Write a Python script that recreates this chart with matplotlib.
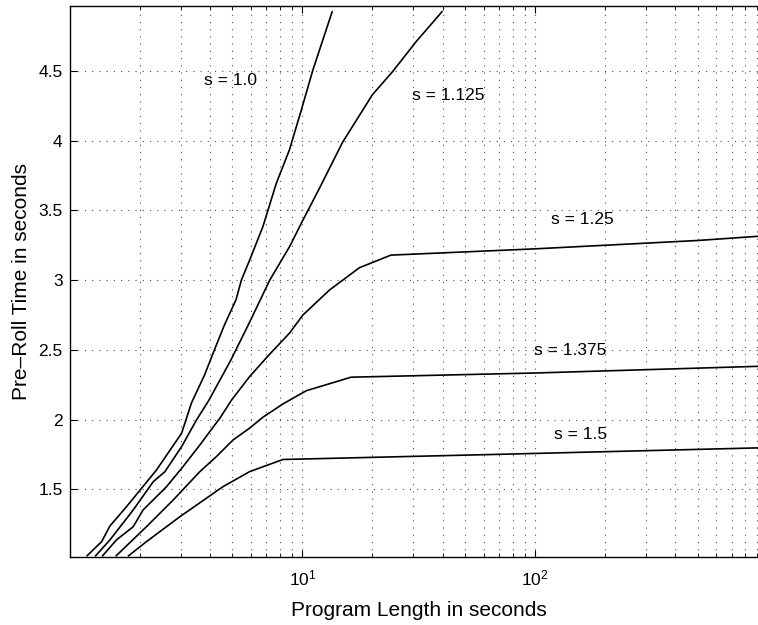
import matplotlib
matplotlib.use("Agg")
import matplotlib.pyplot as plt
from matplotlib.ticker import LogLocator, NullFormatter, FixedLocator

plt.rcParams['font.family'] = ['Liberation Sans', 'DejaVu Sans']
plt.rcParams['mathtext.fontset'] = 'custom'
plt.rcParams['mathtext.rm'] = 'Liberation Sans'
plt.rcParams['mathtext.it'] = 'Liberation Sans'

# s = 1.0
x_s100 = [1.19, 1.374, 1.491, 1.758, 2.364, 3.03, 3.34, 3.80, 4.19, 4.63, 5.19, 5.47,
          5.94, 6.77, 7.73, 8.8, 9.9, 11.1, 13.43]
y_s100 = [1.025, 1.126, 1.238, 1.377, 1.64, 1.903, 2.12, 2.32, 2.50, 2.68, 2.86, 3.0,
          3.145, 3.384, 3.695, 3.934, 4.22, 4.507, 4.925]
# s = 1.125
x_s1125 = [1.295, 1.491, 1.877, 2.29, 2.57, 3.03, 3.51, 3.97, 4.94, 5.94, 7.24, 8.81,
           10.05, 11.85, 14.9, 20.0, 24.4, 30.8, 39.8]
y_s1125 = [1.025, 1.138, 1.353, 1.556, 1.628, 1.807, 1.998, 2.14, 2.43, 2.70, 3.0, 3.24,
           3.43, 3.66, 3.99, 4.33, 4.495, 4.71, 4.925]
# s = 1.25
x_s125 = [1.388, 1.59, 1.877, 2.07, 2.61, 3.07, 3.63, 4.0, 4.42, 4.96, 5.94, 7.24, 8.8,
          10.05, 13.08, 17.6, 24.0, 100, 500, 1000]
y_s125 = [1.025, 1.138, 1.233, 1.353, 1.52, 1.663, 1.819, 1.914, 2.01, 2.14, 2.31, 2.47,
          2.62, 2.75, 2.93, 3.09, 3.18, 3.225, 3.285, 3.32]
# s = 1.375
x_s1375 = [1.587, 2.14, 2.79, 3.63, 4.27, 5.04, 5.94, 6.77, 8.25, 10.4, 16.2, 100, 1000]
y_s1375 = [1.025, 1.233, 1.425, 1.628, 1.735, 1.855, 1.94, 2.018, 2.113, 2.208, 2.305,
           2.335, 2.385]
# s = 1.5
x_s150 = [1.794, 2.14, 2.98, 4.56, 5.94, 8.25, 70, 1000]
y_s150 = [1.025, 1.126, 1.305, 1.52, 1.628, 1.715, 1.752, 1.80]

labels = ["s = 1.0", "s = 1.125", "s = 1.25", "s = 1.375", "s = 1.5"]
label_x = [3.77, 29.5, 116.6, 98.9, 120.5]
label_y = [4.435, 4.323, 3.437, 2.495, 1.891]

y_ticks = [1.5, 2, 2.5, 3, 3.5, 4, 4.5]
y_tick_labels = ["1.5", "2", "2.5", "3", "3.5", "4", "4.5"]

fig = plt.figure(figsize=(7.58, 6.25), dpi=100)
ax = fig.add_axes([69.5 / 758, (625 - 557) / 625, (768 - 69.5) / 758, (557 - 5.7) / 625])

for xs, ys in [(x_s100, y_s100), (x_s1125, y_s1125), (x_s125, y_s125),
               (x_s1375, y_s1375), (x_s150, y_s150)]:
    ax.plot(xs, ys, color='black', linewidth=1.2)

for t, lx, ly in zip(labels, label_x, label_y):
    ax.text(lx, ly, t, fontsize=12.5, ha='left', va='center')

ax.set_xscale('log')
ax.set_xlim(1, 1000)
ax.set_ylim(1.016, 4.968)
ax.xaxis.set_major_locator(FixedLocator([10, 100]))
ax.xaxis.set_minor_locator(LogLocator(base=10, subs=range(2, 10), numticks=20))
ax.xaxis.set_minor_formatter(NullFormatter())
ax.set_yticks(y_ticks)
ax.set_yticklabels(y_tick_labels)

ax.grid(True, which='major', axis='both', linestyle=(0, (1, 5.5)), color='0.3', linewidth=0.8)
ax.grid(True, which='minor', axis='x', linestyle=(0, (1, 5.5)), color='0.3', linewidth=0.8)

ax.tick_params(which='both', direction='in', top=True, right=True, labelsize=12.5)
ax.tick_params(which='major', length=5, width=0.8, pad=8)
ax.tick_params(which='minor', length=3, width=0.6)
ax.tick_params(axis='y', pad=5)

for sp in ax.spines.values():
    sp.set_linewidth(1.0)

ax.set_xlabel("Program Length in seconds", fontsize=15, labelpad=9)
ax.set_ylabel("Pre\u2013Roll Time in seconds", fontsize=15, labelpad=5)

fig.savefig("out.png", dpi=100)
